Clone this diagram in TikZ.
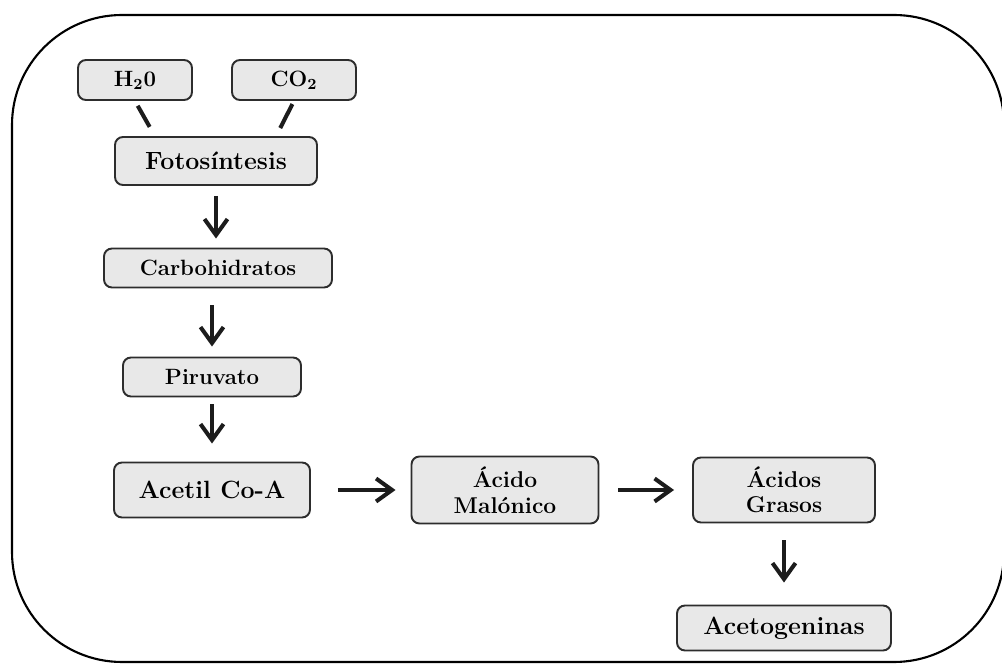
\documentclass[tikz,border=0pt]{standalone}
\usepackage{tikz}
\usetikzlibrary{arrows.meta,calc}
\definecolor{boxfill}{RGB}{232,232,232}
\definecolor{boxline}{RGB}{45,45,45}
\definecolor{arrowc}{RGB}{28,28,28}

\begin{document}
\begin{tikzpicture}[>={Straight Barb[length=3.2mm,width=4.6mm]},
  proc/.style={rectangle, rounded corners=1.6mm, draw=boxline, fill=boxfill, line width=1.1pt,
               align=center, inner sep=2pt, font=\bfseries\fontsize{13}{14.5}\selectfont},
  big/.style={proc, font=\bfseries\fontsize{14.2}{16}\selectfont},
  small/.style={proc, font=\bfseries\fontsize{12.6}{14}\selectfont},
  flow/.style={->, line width=2.3pt, draw=arrowc},
  link/.style={line width=2.3pt, draw=arrowc, line cap=butt}]
  \useasboundingbox (0,0) rectangle (20.04,13.28);
  % outer frame
  \draw[line width=1.2pt, rounded corners=2.2cm] (0.24,0.04) rectangle (20.08,12.98);
  % nodes
  \node[small, minimum width=2.28cm, minimum height=0.8cm] (h2o) at (2.70,11.68) {H\textsubscript{2}0};
  \node[small, minimum width=2.48cm, minimum height=0.8cm] (co2) at (5.88,11.68) {CO\textsubscript{2}};
  \node[big, minimum width=4.04cm, minimum height=0.96cm] (foto) at (4.32,10.06) {Fotosíntesis};
  \node[small, minimum width=4.56cm, minimum height=0.78cm] (carbo) at (4.36,7.92) {Carbohidratos};
  \node[small, minimum width=3.56cm, minimum height=0.78cm] (piru) at (4.24,5.74) {Piruvato};
  \node[big, minimum width=3.92cm, minimum height=1.1cm] (acetil) at (4.24,3.48) {Acetil Co-A};
  \node[proc, minimum width=3.74cm, minimum height=1.34cm] (malon) at (10.10,3.48) {Ácido\\Malónico};
  \node[proc, minimum width=3.64cm, minimum height=1.3cm] (grasos) at (15.68,3.48) {Ácidos\\Grasos};
  \node[big, minimum width=4.28cm, minimum height=0.9cm] (aceto) at (15.68,0.72) {Acetogeninas};
  % connectors
  \draw[link, shorten <=0.11cm, shorten >=0.21cm] (h2o.south) -- ($(foto.north west)!0.2!(foto.north east)$);
  \draw[link, shorten <=0.07cm, shorten >=0.18cm] (co2.south) -- ($(foto.north west)!0.795!(foto.north east)$);
  \draw[flow, shorten <=0.2cm, shorten >=0.18cm] (foto.south) -- (foto.south |- carbo.north);
  \draw[flow, shorten <=0.34cm, shorten >=0.2cm] (carbo.south -| piru.north) -- (piru.north);
  \draw[flow, shorten <=0.14cm, shorten >=0.36cm] (piru.south) -- (acetil.north);
  \draw[flow, shorten <=0.54cm, shorten >=0.3cm] (acetil.east) -- (malon.west);
  \draw[flow, shorten <=0.38cm, shorten >=0.36cm] (malon.east) -- (grasos.west);
  \draw[flow, shorten <=0.34cm, shorten >=0.44cm] (grasos.south) -- (aceto.north);
\end{tikzpicture}
\end{document}
